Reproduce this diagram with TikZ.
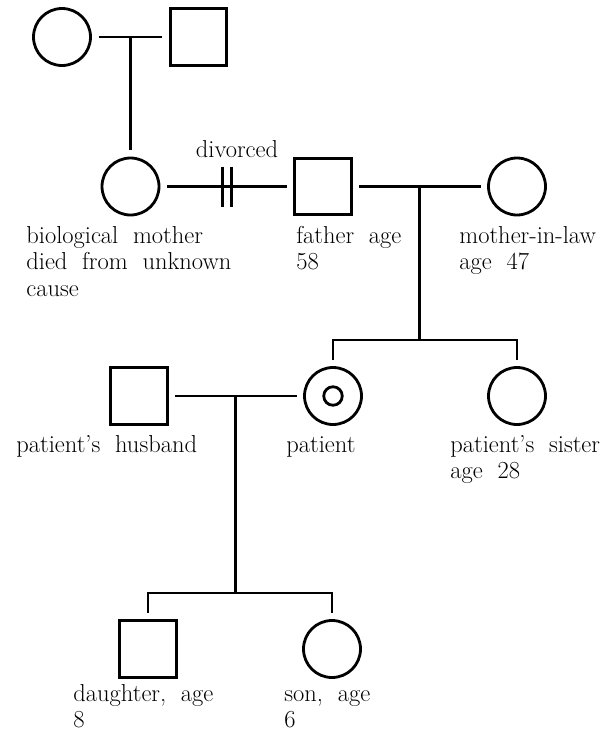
\documentclass[tikz,border=0pt]{standalone}
\usetikzlibrary{calc}
\begin{document}
\begin{tikzpicture}[x=1pt,y=-1pt,
  line width=2.8pt,
  fem/.style={draw,circle,minimum size=57pt,inner sep=0pt,outer sep=8pt},
  mal/.style={draw,rectangle,minimum size=56.5pt,inner sep=0pt,outer sep=8pt},
  lbl/.style={anchor=base west,inner sep=0pt,font={\fontsize{24.5}{26.5}\selectfont\spaceskip=0.6em\relax}},
  link/.style={line width=2.8pt}]
\useasboundingbox (0,0) rectangle (614,731);

% generation I
\node[fem] (gm) at (62,37) {};
\node[mal] (gf) at (198.5,37) {};
% generation II
\node[fem] (bm) at (130.5,186.5) {};
\node[mal] (fa) at (323,186.5) {};
\node[fem] (ml) at (517,186.5) {};
% generation III
\node[mal] (hu) at (139,396) {};
\node[fem] (pt) at (333,396) {};
\node[draw,circle,minimum size=18.5pt,inner sep=0pt] (ptin) at (pt.center) {};
\node[fem] (sis) at (517,396) {};
% generation IV
\node[mal] (da) at (148,649) {};
\node[fem] (so) at (332,649) {};

% couples and lines of descent
\draw[link] (gm) -- (gf);
\coordinate (m1) at ($(gm.east)!0.5!(gf.west)$);
\draw[link] (m1) -- (m1 |- bm.north);

\draw[link] (bm) -- (fa);
\coordinate (dv) at ($(bm.east)!0.5!(fa.west)$);
\draw[link] ([xshift=-4.5pt]dv) ++(0,-20) -- ++(0,40);
\draw[link] ([xshift=4.5pt]dv) ++(0,-20) -- ++(0,40);
\node[lbl,anchor=base] (dvl) at (237,157) {divorced};

\draw[link] (fa) -- (ml);
\coordinate (m2) at ($(fa.east)!0.5!(ml.west)$);
\coordinate (sb) at (420,340);
\draw[link] (m2) -- (m2 |- sb);
\draw[link] (pt.north) -- (pt.north |- sb) -- (sis.north |- sb) -- (sis.north);

\draw[link] (hu) -- (pt);
\coordinate (m3) at ($(hu.east)!0.5!(pt.west)$);
\coordinate (cb) at (236,593);
\draw[link] (m3) -- (m3 |- cb);
\draw[link] (da.north) -- (da.north |- cb) -- (so.north |- cb) -- (so.north);

% labels
\node[lbl] (lbm) at (25,243) {\begin{tabular}[t]{@{}l@{}}biological mother\\died from unknown\\cause\end{tabular}};
\node[lbl] (lfa) at (295,243) {\begin{tabular}[t]{@{}l@{}}father age\\58\end{tabular}};
\node[lbl] (lml) at (458,243) {\begin{tabular}[t]{@{}l@{}}mother-in-law\\age 47\end{tabular}};
\node[lbl] (lhu) at (15,452) {patient's husband};
\node[lbl] (lpt) at (285,452) {patient};
\node[lbl] (lsis) at (449,452) {\begin{tabular}[t]{@{}l@{}}patient's sister\\age 28\end{tabular}};
\node[lbl] (lda) at (72,701) {\begin{tabular}[t]{@{}l@{}}daughter, age\\8\end{tabular}};
\node[lbl] (lso) at (283,701) {\begin{tabular}[t]{@{}l@{}}son, age\\6\end{tabular}};
\end{tikzpicture}
\end{document}
